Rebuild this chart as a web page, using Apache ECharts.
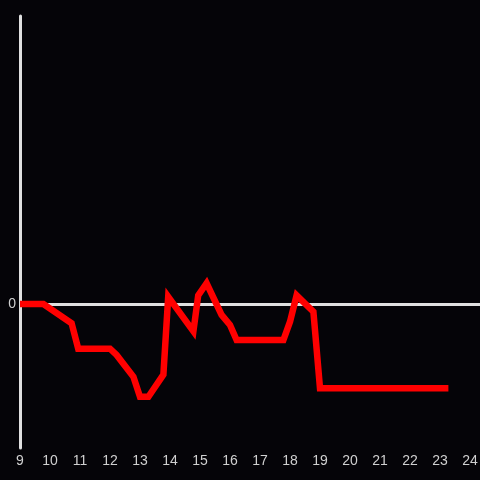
<!DOCTYPE html>
<html><head><meta charset="utf-8">
<script src="https://cdn.jsdelivr.net/npm/echarts@6/dist/echarts.min.js"></script>
<style>html,body{margin:0;padding:0;background:#050408;}#c{width:480px;height:480px;}</style>
</head><body><div id="c"></div>
<script>
const xValues = [9, 9.78, 10.72, 10.94, 12, 12.22, 12.78, 13, 13.28, 13.78, 13.94, 14.78, 14.94, 15.22, 15.72, 16, 16.22, 17.78, 18, 18.22, 18.78, 19, 23.28];
const yValues = [0, 0, -0.134, -0.31, -0.31, -0.354, -0.505, -0.644, -0.644, -0.49, 0.05, -0.19, 0.06, 0.144, -0.076, -0.146, -0.25, -0.25, -0.123, 0.06, -0.053, -0.585, -0.585];
const xTicks = [9,10,11,12,13,14,15,16,17,18,19,20,21,22,23,24];

const chart = echarts.init(document.getElementById('c'));
chart.setOption({
  backgroundColor: '#050408',
  animation: false,
  grid: {left: 20, right: 0, top: 16, bottom: 32, containLabel: false, outerBoundsMode: 'none'},
  xAxis: {
    type: 'value', min: 9, max: 9 + 460 / 30, interval: 1,
    axisLine: {show: false, onZero: false},
    axisTick: {show: false},
    splitLine: {show: false},
    axisLabel: {color: '#d0d0d0', fontSize: 14, margin: 6, fontFamily: 'Liberation Sans',
      formatter: v => xTicks.indexOf(Math.round(v * 1000) / 1000) >= 0 ? String(Math.round(v)) : ''}
  },
  yAxis: {
    type: 'value', min: -1, max: 2, interval: 1,
    axisLine: {show: true, lineStyle: {color: '#e0e0e0', width: 3}},
    axisTick: {show: false},
    splitLine: {show: false},
    axisLabel: {color: '#d0d0d0', fontSize: 14, margin: 4, fontFamily: 'Liberation Sans',
      formatter: v => v === 0 ? '0' : ''}
  },
  series: [{
    type: 'line',
    data: xValues.map((x, i) => [x, yValues[i]]),
    symbol: 'none',
    lineStyle: {color: '#ff0000', width: 6.5, join: 'miter'},
    z: 3,
    markLine: {
      silent: true, symbol: 'none', label: {show: false},
      lineStyle: {color: '#e0e0e0', width: 3, type: 'solid'},
      data: [{yAxis: 0}],
      z: 2
    }
  }]
});
</script></body></html>
